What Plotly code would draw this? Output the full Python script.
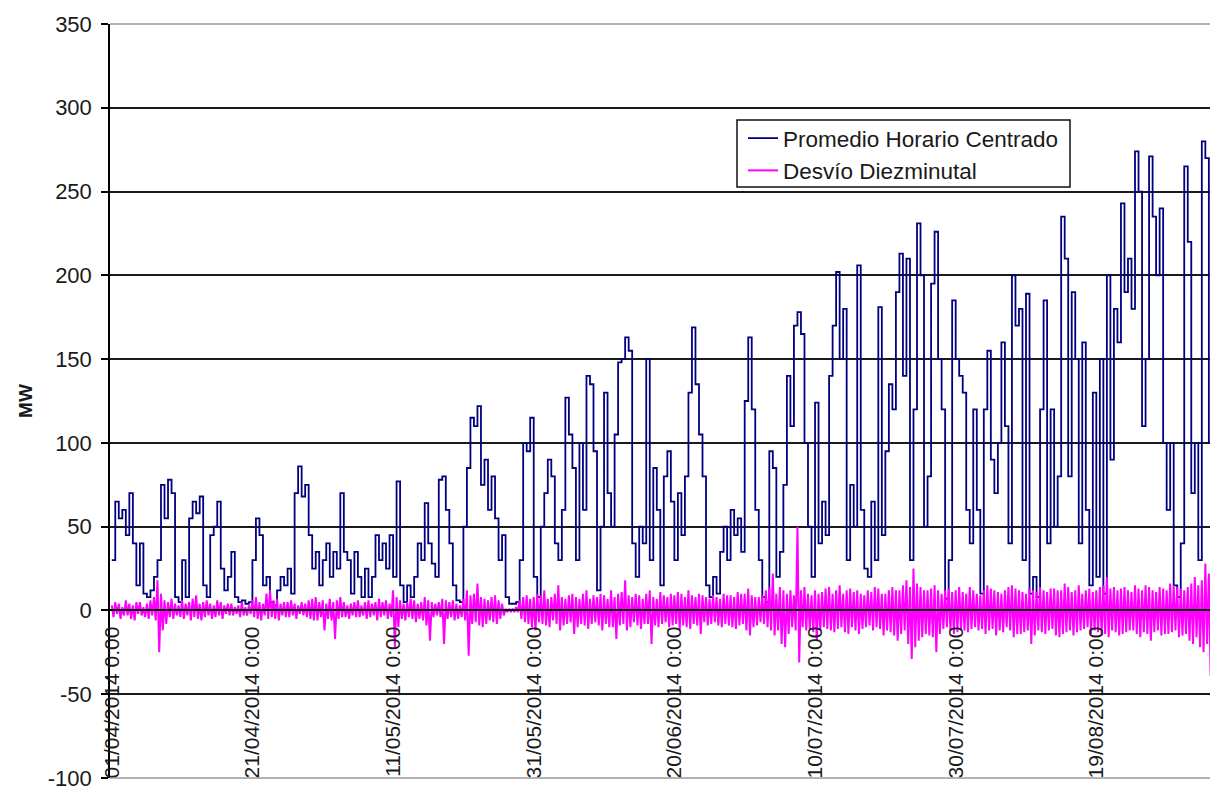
import pandas as pd
import plotly.graph_objects as go

# ---------------- data ----------------
start_date = "2014-04-01 00:00"

# Promedio Horario Centrado, one value every 12 h (MW)
promedio = [
    30, 65, 55, 60, 45, 70, 40, 15, 40, 10,
    8, 12, 20, 30, 75, 55, 78, 70, 8, 5,
    30, 8, 55, 65, 58, 68, 15, 8, 45, 50,
    65, 25, 12, 20, 35, 8, 5, 6, 4, 5,
    30, 55, 45, 15, 20, 5, 3, 12, 20, 15,
    25, 10, 70, 86, 68, 75, 45, 25, 35, 15,
    30, 40, 20, 35, 25, 70, 35, 30, 10, 35,
    20, 8, 25, 8, 20, 45, 30, 40, 25, 45,
    20, 77, 15, 5, 15, 8, 20, 40, 30, 64,
    40, 28, 20, 78, 80, 60, 40, 15, 6, 5,
    50, 85, 115, 110, 122, 75, 90, 60, 80, 55,
    30, 45, 8, 4, 4, 5, 30, 100, 95, 115,
    20, 8, 50, 70, 90, 80, 40, 30, 60, 127,
    105, 85, 30, 100, 60, 140, 135, 95, 12, 50,
    130, 70, 50, 105, 148, 150, 163, 155, 40, 20,
    50, 40, 150, 30, 85, 60, 15, 80, 95, 65,
    30, 70, 45, 80, 130, 169, 135, 105, 80, 15,
    8, 20, 10, 35, 50, 30, 60, 45, 55, 35,
    125, 163, 120, 60, 30, 8, 5, 95, 85, 20,
    35, 75, 140, 110, 170, 178, 165, 100, 50, 20,
    124, 40, 65, 45, 140, 170, 202, 150, 180, 30,
    75, 50, 206, 60, 25, 20, 65, 30, 181, 45,
    95, 135, 120, 190, 213, 140, 210, 30, 120, 231,
    200, 50, 80, 195, 226, 150, 120, 7, 30, 185,
    150, 140, 130, 60, 40, 120, 60, 10, 120, 155,
    90, 70, 100, 160, 110, 40, 200, 170, 180, 30,
    189, 10, 20, 8, 120, 185, 40, 120, 50, 80,
    235, 210, 80, 190, 150, 40, 160, 60, 15, 130,
    20, 150, 10, 200, 90, 180, 160, 243, 190, 210,
    180, 274, 250, 110, 150, 271, 235, 200, 240, 100,
    60, 100, 15, 8, 40, 265, 220, 70, 100, 30,
    280, 270, 100, 30, 285, 200,
]

# Desvio Diezminutal, one value every 6 h (MW), one row per day
desvio = [
    3, -4, 5, -2,   4, -5, 2, -3,   6, -3, 4, -5,   3, -6, 5, -2,
    5, -3, 2, -4,   4, -5, 6, -3,   8, -6, 18, -25, 10, -12, 6, -8,
    5, -4, 7, -5,   4, -3, 3, -4,   6, -5, 4, -3,   5, -6, 7, -4,
    9, -5, 4, -6,   5, -4, 6, -3,   4, -5, 3, -4,   6, -3, 5, -5,
    3, -2, 4, -3,   4, -3, 2, -2,   3, -4, 5, -3,   2, -3, 3, -2,
    6, -4, 8, -5,   5, -6, 4, -3,   10, -5, 12, -4, 6, -5, 7, -6,
    4, -3, 5, -4,   5, -4, 6, -3,   4, -5, 3, -2,   5, -3, 4, -4,
    6, -5, 7, -6,   8, -6, 5, -4,   6, -12, 4, -5,  7, -6, 5, -17,
    6, -5, 8, -4,   5, -4, 3, -5,   4, -3, 5, -4,   6, -4, 3, -3,
    5, -5, 6, -4,   4, -3, 5, -6,   7, -4, 5, -3,   6, -5, 4, -4,
    12, -22, 8, -10, 6, -5, 4, -6,  5, -4, 7, -5,   6, -7, 4, -5,
    5, -6, 8, -9,   6, -18, 5, -4,  4, -3, 5, -4,   7, -20, 6, -5,
    5, -4, 6, -6,   4, -5, 3, -4,   7, -6, 12, -27, 9, -8, 10, -7,
    16, -9, 8, -10, 7, -8, 6, -6,   8, -7, 9, -8,   6, -5, 4, -3,
    1, -1, 1, -1,   1, -1, 2, -1,   6, -5, 8, -7,   9, -8, 7, -10,
    8, -12, 10, -7, 9, -8, 12, -9,  7, -10, 8, -6,  10, -8, 15, -12,
    8, -9, 7, -8,   9, -7, 10, -14, 8, -10, 7, -8,  10, -9, 12, -11,
    7, -8, 9, -7,   8, -9, 10, -12, 9, -8, 7, -10,  12, -10, 8, -17,
    10, -9, 11, -8, 18, -12, 9, -10, 8, -7, 10, -9, 9, -11, 7, -8,
    10, -8, 12, -20, 8, -9, 7, -10, 11, -8, 9, -7,  8, -10, 10, -9,
    9, -8, 11, -12, 10, -9, 8, -10, 12, -11, 9, -8, 8, -9, 10, -14,
    9, -7, 8, -9,   7, -8, 9, -7,   8, -9, 7, -10,  10, -8, 9, -9,
    9, -10, 8, -11, 11, -9, 10, -8, 10, -12, 13, -15, 9, -10, 8, -9,
    8, -7, 9, -8,   12, -10, 14, -12, 22, -15, 10, -12, 14, -20, 12, -22,
    10, -14, 12, -10, 9, -12, 50, -31, 12, -10, 14, -12, 10, -11, 9, -13,
    12, -18, 10, -12, 11, -10, 13, -11, 14, -12, 10, -13, 12, -11, 15, -10,
    10, -13, 12, -14, 13, -10, 11, -12, 12, -14, 10, -11, 9, -10, 12, -9,
    11, -12, 14, -10, 13, -11, 10, -15, 10, -12, 12, -13, 14, -15, 12, -18,
    12, -14, 15, -12, 18, -20, 14, -29, 25, -22, 16, -18, 14, -16, 12, -14,
    12, -15, 13, -16, 15, -25, 12, -14, 10, -11, 12, -10, 13, -12, 11, -14,
    12, -13, 14, -12, 11, -12, 10, -13, 14, -11, 12, -10, 10, -12, 9, -11,
    12, -14, 15, -12, 13, -11, 12, -15, 11, -12, 10, -13, 12, -10, 14, -12,
    15, -16, 13, -14, 12, -14, 11, -13, 10, -12, 13, -20, 12, -15, 11, -12,
    14, -13, 12, -14, 11, -12, 13, -11, 13, -15, 12, -16, 12, -14, 16, -13,
    14, -12, 11, -15, 12, -13, 15, -12, 10, -11, 12, -10, 13, -14, 11, -12,
    12, -13, 14, -15, 15, -14, 20, -16, 13, -12, 14, -13, 12, -15, 13, -14,
    14, -13, 12, -12, 11, -12, 15, -14, 13, -16, 12, -13, 15, -14, 14, -18,
    12, -13, 11, -12, 14, -15, 13, -14, 12, -14, 16, -13, 15, -12, 14, -16,
    13, -15, 12, -14, 14, -18, 16, -20, 20, -16, 15, -22, 18, -25, 28, -20,
    22, -39, 25, -18, 15, -14, 12, -10,
]

tick_start = "2014-04-01"
tick_step_days = 20
x_range = ["2014-03-31 18:00", "2014-09-05 07:12"]
y_ticks = [350, 300, 250, 200, 150, 100, 50, 0, -50, -100]

series_names = ["Promedio Horario Centrado", "Desvío Diezminutal"]
series_colors = ["#000080", "#FF00FF"]

# ---------------- figure ----------------
x_prom = pd.date_range(start_date, periods=len(promedio), freq="12h")
x_desv = pd.date_range(start_date, periods=len(desvio), freq="6h")

FONT = "Liberation Sans, Arial, sans-serif"
TXT = "#1a1a1a"

fig = go.Figure()
fig.add_trace(go.Scatter(x=x_prom, y=promedio, mode="lines", name=series_names[0],
                         line=dict(color=series_colors[0], width=1.8, shape="hv")))
fig.add_trace(go.Scatter(x=x_desv, y=desvio, mode="lines", name=series_names[1],
                         line=dict(color=series_colors[1], width=2)))

y_min, y_max = min(y_ticks), max(y_ticks)
zero_pos = (0 - y_min) / (y_max - y_min)

# page body has an 8 px margin: figure is placed at (8, 8)
PL, PT, PW, PH = 102, 16, 1108, 754   # plot area in figure pixels


def px_x(x):  # screen x -> paper fraction
    return (x - 8 - PL) / PW


def px_y(y):  # screen y -> paper fraction
    return 1 - (y - 8 - PT) / PH


# plot-area top/bottom border (gray)
for yp in (0, 1):
    fig.add_shape(type="line", xref="paper", yref="paper", x0=0, x1=1, y0=yp, y1=yp,
                  line=dict(color="#9a9a9a", width=1.5), layer="above")

# legend frame
fig.add_shape(type="rect", xref="paper", yref="paper",
              x0=px_x(737), x1=px_x(1070), y0=px_y(187), y1=px_y(120),
              line=dict(color="#111111", width=1.5), fillcolor="rgba(0,0,0,0)", layer="above")

fig.update_layout(
    width=1210, height=784,
    margin=dict(l=PL, r=0, t=PT, b=14),
    paper_bgcolor="white", plot_bgcolor="white",
    font=dict(family=FONT, color=TXT, size=21),
    showlegend=True,
    legend=dict(
        x=px_x(743), y=px_y(117), xanchor="left", yanchor="top",
        bgcolor="rgba(0,0,0,0)", borderwidth=0,
        font=dict(family=FONT, size=22.5, color=TXT),
        itemwidth=30,
    ),
    xaxis=dict(
        type="date", range=x_range,
        tick0=tick_start, dtick=tick_step_days * 86400000,
        tickformat="%d/%m/%Y %-H:%M", tickangle=-90,
        tickfont=dict(family=FONT, size=21, color=TXT),
        showgrid=False, zeroline=False,
        showline=True, linecolor="black", linewidth=1.5,
        anchor="free", position=zero_pos,
        ticks="", ticklabelstandoff=7,
        automargin=False,
    ),
    yaxis=dict(
        range=[y_min, y_max], tickvals=y_ticks,
        ticktext=[str(v) for v in y_ticks],
        tickfont=dict(family=FONT, size=22, color=TXT),
        showgrid=True, gridcolor="#1a1a1a", gridwidth=1.5,
        zeroline=False,
        showline=True, linecolor="black", linewidth=1.5,
        ticks="outside", ticklen=7, tickcolor="black", tickwidth=1.5,
        ticklabelstandoff=5,
        title=dict(text="<b>MW</b>", font=dict(family=FONT, size=19, color=TXT), standoff=10),
        automargin=False,
    ),
)

fig.write_html("out.html")
